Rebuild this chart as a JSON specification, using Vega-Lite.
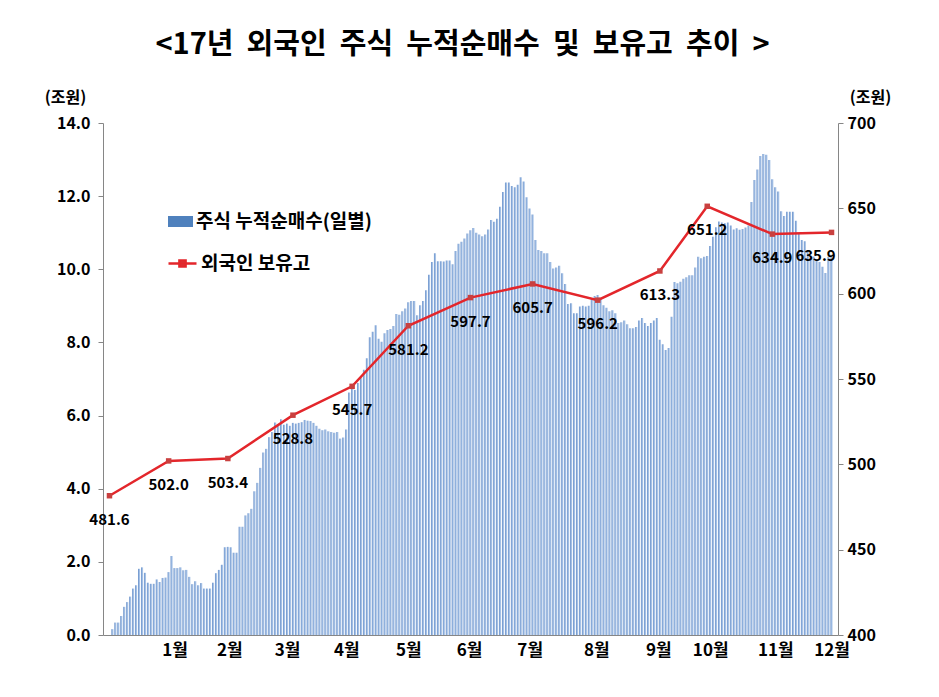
{
  "$schema": "https://vega.github.io/schema/vega-lite/v6.json",
  "width": 735,
  "height": 512,
  "autosize": {"type": "none"},
  "padding": {"left": 103, "top": 123, "right": 101, "bottom": 62},
  "background": "white",
  "config": {"font": "Noto Sans CJK KR", "view": {"stroke": null}},
  "title": {"text": "<17년\u00a0\u00a0외국인\u00a0\u00a0주식\u00a0\u00a0누적순매수\u00a0\u00a0및\u00a0\u00a0보유고\u00a0\u00a0추이\u00a0\u00a0>", "fontSize": 29, "fontWeight": "bold", "font": "Noto Sans CJK KR", "color": "black", "anchor": "middle", "dx": -8, "offset": 29, "limit": 900},
  "datasets": {
    "daily": [
      {"i":1,"v":0.16},{"i":2,"v":0.34},{"i":3,"v":0.34},{"i":4,"v":0.52},{"i":5,"v":0.77},{"i":6,"v":0.90},{"i":7,"v":1.05},{"i":8,"v":1.27},{"i":9,"v":1.36},{"i":10,"v":1.81},
      {"i":11,"v":1.85},{"i":12,"v":1.70},{"i":13,"v":1.43},{"i":14,"v":1.40},{"i":15,"v":1.40},{"i":16,"v":1.52},{"i":17,"v":1.45},{"i":18,"v":1.56},{"i":19,"v":1.57},{"i":20,"v":1.72},
      {"i":21,"v":2.16},{"i":22,"v":1.83},{"i":23,"v":1.83},{"i":24,"v":1.85},{"i":25,"v":1.77},{"i":26,"v":1.78},{"i":27,"v":1.59},{"i":28,"v":1.39},{"i":29,"v":1.47},{"i":30,"v":1.36},
      {"i":31,"v":1.42},{"i":32,"v":1.27},{"i":33,"v":1.27},{"i":34,"v":1.27},{"i":35,"v":1.43},{"i":36,"v":1.69},{"i":37,"v":1.78},{"i":38,"v":1.92},{"i":39,"v":2.40},{"i":40,"v":2.41},
      {"i":41,"v":2.40},{"i":42,"v":2.25},{"i":43,"v":2.25},{"i":44,"v":2.96},{"i":45,"v":2.96},{"i":46,"v":3.27},{"i":47,"v":3.33},{"i":48,"v":3.45},{"i":49,"v":3.93},{"i":50,"v":4.16},
      {"i":51,"v":4.57},{"i":52,"v":4.99},{"i":53,"v":5.09},{"i":54,"v":5.41},{"i":55,"v":5.55},{"i":56,"v":5.81},{"i":57,"v":5.77},{"i":58,"v":5.90},{"i":59,"v":5.75},{"i":60,"v":5.78},
      {"i":61,"v":5.72},{"i":62,"v":5.80},{"i":63,"v":5.78},
      {"i":64,"v":5.80},{"i":65,"v":5.82},{"i":66,"v":5.88},{"i":67,"v":5.86},{"i":68,"v":5.85},{"i":69,"v":5.80},{"i":70,"v":5.72},{"i":71,"v":5.64},{"i":72,"v":5.60},{"i":73,"v":5.62},
      {"i":74,"v":5.57},{"i":75,"v":5.55},{"i":76,"v":5.53},{"i":77,"v":5.55},{"i":78,"v":5.37},{"i":79,"v":5.40},{"i":80,"v":5.62},{"i":81,"v":6.63},{"i":82,"v":6.74},{"i":83,"v":6.70},
      {"i":84,"v":6.89},{"i":85,"v":7.05},{"i":86,"v":7.25},{"i":87,"v":7.57},{"i":88,"v":8.14},{"i":89,"v":8.29},{"i":90,"v":8.47},{"i":91,"v":8.10},{"i":92,"v":8.02},{"i":93,"v":8.25},
      {"i":94,"v":8.34},{"i":95,"v":8.37},{"i":96,"v":8.45},{"i":97,"v":8.78},{"i":98,"v":8.76},{"i":99,"v":8.85},{"i":100,"v":8.93},{"i":101,"v":9.10},{"i":102,"v":9.13},
      {"i":103,"v":9.13},{"i":104,"v":8.74},{"i":105,"v":9.02},{"i":106,"v":9.13},{"i":107,"v":9.43},{"i":108,"v":9.85},{"i":109,"v":10.2},{"i":110,"v":10.44},{"i":111,"v":10.22},{"i":112,"v":10.22},
      {"i":113,"v":10.21},{"i":114,"v":10.24},{"i":115,"v":10.24},{"i":116,"v":10.14},{"i":117,"v":10.5},{"i":118,"v":10.7},{"i":119,"v":10.75},{"i":120,"v":10.84},{"i":121,"v":10.98},{"i":122,"v":11.07},
      {"i":123,"v":11.13},
      {"i":124,"v":11.0},{"i":125,"v":10.95},{"i":126,"v":10.9},{"i":127,"v":10.95},{"i":128,"v":11.09},{"i":129,"v":11.35},{"i":130,"v":11.3},{"i":131,"v":11.38},{"i":132,"v":11.71},{"i":133,"v":12.11},
      {"i":134,"v":12.37},{"i":135,"v":12.37},{"i":136,"v":12.28},{"i":137,"v":12.24},{"i":138,"v":12.31},{"i":139,"v":12.52},{"i":140,"v":12.4},{"i":141,"v":11.97},{"i":142,"v":11.66},{"i":143,"v":11.5},
      {"i":144,"v":10.8},
      {"i":145,"v":10.53},{"i":146,"v":10.5},{"i":147,"v":10.44},{"i":148,"v":10.44},{"i":149,"v":10.2},{"i":150,"v":10.02},{"i":151,"v":10.05},{"i":152,"v":10.1},{"i":153,"v":9.89},{"i":154,"v":9.60},
      {"i":155,"v":9.05},{"i":156,"v":9.07},{"i":157,"v":8.80},{"i":158,"v":8.80},{"i":159,"v":8.98},{"i":160,"v":9.0},{"i":161,"v":8.98},{"i":162,"v":9.0},{"i":163,"v":9.2},{"i":164,"v":9.27},
      {"i":165,"v":9.30},{"i":166,"v":9.2},
      {"i":167,"v":9.02},{"i":168,"v":8.95},{"i":169,"v":8.85},{"i":170,"v":8.88},{"i":171,"v":8.80},{"i":172,"v":8.53},{"i":173,"v":8.55},{"i":174,"v":8.6},{"i":175,"v":8.5},{"i":176,"v":8.39},
      {"i":177,"v":8.39},{"i":178,"v":8.42},{"i":179,"v":8.6},{"i":180,"v":8.67},{"i":181,"v":8.53},{"i":182,"v":8.45},{"i":183,"v":8.53},{"i":184,"v":8.6},{"i":185,"v":8.67},{"i":186,"v":8.07},
      {"i":187,"v":7.95},
      {"i":188,"v":7.79},{"i":189,"v":7.85},{"i":190,"v":8.70},{"i":191,"v":9.65},{"i":192,"v":9.62},{"i":193,"v":9.66},{"i":194,"v":9.74},{"i":195,"v":9.78},{"i":196,"v":9.84},{"i":197,"v":9.84},
      {"i":198,"v":10.05},{"i":199,"v":10.34},{"i":200,"v":10.30},{"i":201,"v":10.34},{"i":202,"v":10.36},{"i":203,"v":10.64},
      {"i":204,"v":10.89},{"i":205,"v":11.15},{"i":206,"v":11.31},{"i":207,"v":11.28},{"i":208,"v":11.26},{"i":209,"v":11.28},{"i":210,"v":11.2},{"i":211,"v":11.09},{"i":212,"v":11.12},{"i":213,"v":11.08},
      {"i":214,"v":11.1},{"i":215,"v":11.14},{"i":216,"v":11.2},{"i":217,"v":11.84},{"i":218,"v":12.44},{"i":219,"v":12.73},{"i":220,"v":13.1},{"i":221,"v":13.15},{"i":222,"v":13.13},{"i":223,"v":12.99},
      {"i":224,"v":12.46},{"i":225,"v":12.24},
      {"i":226,"v":12.13},{"i":227,"v":11.59},{"i":228,"v":11.46},{"i":229,"v":11.57},{"i":230,"v":11.57},{"i":231,"v":11.57},{"i":232,"v":11.33},{"i":233,"v":10.98},{"i":234,"v":10.80},{"i":235,"v":10.77},
      {"i":236,"v":10.53},{"i":237,"v":10.33},{"i":238,"v":10.35},{"i":239,"v":10.25},{"i":240,"v":10.2},{"i":241,"v":10.07},{"i":242,"v":9.9},{"i":243,"v":10.34},{"i":244,"v":10.40}
    ],
    "monthly": [
      {"i":0,"h":481.6},{"i":20,"h":502.0},{"i":40,"h":503.4},{"i":62,"h":528.8},{"i":82,"h":545.7},{"i":101,"h":581.2},{"i":122,"h":597.7},
      {"i":143,"h":605.7},{"i":165,"h":596.2},{"i":186,"h":613.3},{"i":202,"h":651.2},{"i":224,"h":634.9},{"i":244,"h":635.9}
    ]
  },
  "layer": [
    {
      "data": {"name": "daily"},
      "mark": {
        "type": "bar", "size": 2.1,
        "fill": {"gradient": "linear", "x1": 0, "x2": 1, "y1": 0, "y2": 0, "stops": [{"offset": 0, "color": "#5f88c4"}, {"offset": 0.5, "color": "#9ab9e2"}, {"offset": 1, "color": "#b3cbea"}]}
      },
      "encoding": {
        "x": {
          "field": "i", "type": "quantitative",
          "scale": {"domain": [-0.5, 244.5], "nice": false, "zero": false},
          "axis": {
            "title": null, "grid": false, "ticks": false,
            "values": [22, 40.5, 60, 80, 101, 121.5, 142, 164.5, 185.5, 203, 225, 244],
            "labelExpr": "['1월','2월','3월','4월','5월','6월','7월','8월','9월','10월','11월','12월'][indexof([22, 40.5, 60, 80, 101, 121.5, 142, 164.5, 185.5, 203, 225, 244], datum.value)]",
            "domainColor": "#868686", "labelFontSize": 17, "labelFontWeight": "bold", "labelColor": "black",
            "labelPadding": 7, "labelFlush": false, "labelOverlap": false
          }
        },
        "y": {
          "field": "v", "type": "quantitative",
          "scale": {"domain": [0, 14], "nice": false},
          "axis": {
            "values": [0, 2, 4, 6, 8, 10, 12, 14], "format": ".1f", "grid": false,
            "tickSize": 5, "domainColor": "#868686", "tickColor": "#868686",
            "labelFontSize": 16, "labelFontWeight": "bold", "labelColor": "black", "labelPadding": 8,
            "title": "(조원)", "titleAngle": 0, "titleX": -38, "titleY": -26, "titleAlign": "center", "titleBaseline": "middle",
            "titleFontSize": 16, "titleFontWeight": "bold", "titleColor": "black"
          }
        },
        "color": {
          "datum": "주식 누적순매수(일별)",
          "scale": {"range": ["#4f81bd"]},
          "legend": {
            "orient": "none", "legendX": 65, "legendY": 86, "title": null, "padding": 0,
            "symbolType": "M-1,-0.44H1V0.44H-1Z", "symbolSize": 625, "symbolStrokeWidth": 0,
            "labelFontSize": 19, "labelFontWeight": "bold", "labelColor": "black", "labelOffset": 3, "labelLimit": 400, "labelFont": "Noto Sans CJK KR"
          }
        }
      }
    },
    {
      "data": {"name": "monthly"},
      "encoding": {
        "x": {"field": "i", "type": "quantitative"},
        "y": {
          "field": "h", "type": "quantitative",
          "scale": {"domain": [400, 700], "nice": false, "zero": false},
          "axis": {
            "orient": "right", "values": [400, 450, 500, 550, 600, 650, 700], "grid": false,
            "tickSize": 5, "domainColor": "#868686", "tickColor": "#868686",
            "labelFontSize": 16, "labelFontWeight": "bold", "labelColor": "black", "labelPadding": 4,
            "title": "(조원)", "titleAngle": 0, "titleX": 32, "titleY": -26, "titleAlign": "center", "titleBaseline": "middle",
            "titleFontSize": 16, "titleFontWeight": "bold", "titleColor": "black"
          }
        }
      },
      "layer": [
        {
          "mark": {"type": "line", "strokeWidth": 2.5},
          "encoding": {
            "stroke": {
              "datum": "외국인 보유고",
              "scale": {"range": ["#e3262b"]},
              "legend": {
                "orient": "none", "legendX": 64, "legendY": 125, "title": null, "padding": 0,
                "symbolType": "M-1,0H1M-0.22,-0.22H0.22V0.22H-0.22Z", "symbolSize": 784, "symbolStrokeWidth": 2.5,
                "symbolFillColor": "#c9403f",
                "labelFontSize": 19, "labelFontWeight": "bold", "labelColor": "black", "labelOffset": 3, "labelLimit": 400, "labelFont": "Noto Sans CJK KR"
              }
            }
          }
        },
        {
          "mark": {"type": "point", "shape": "square", "filled": true, "color": "#c9403f", "size": 30, "opacity": 1},
          "encoding": {}
        },
        {
          "transform": [{"filter": "datum.i < 244"}],
          "mark": {"type": "text", "dy": 24, "fontSize": 15, "fontWeight": "bold", "color": "black"},
          "encoding": {"text": {"field": "h", "type": "quantitative", "format": ".1f"}}
        },
        {
          "transform": [{"filter": "datum.i >= 244"}],
          "mark": {"type": "text", "dy": 24, "dx": -16, "fontSize": 15, "fontWeight": "bold", "color": "black"},
          "encoding": {"text": {"field": "h", "type": "quantitative", "format": ".1f"}}
        }
      ]
    }
  ],
  "resolve": {"scale": {"y": "independent"}}
}
